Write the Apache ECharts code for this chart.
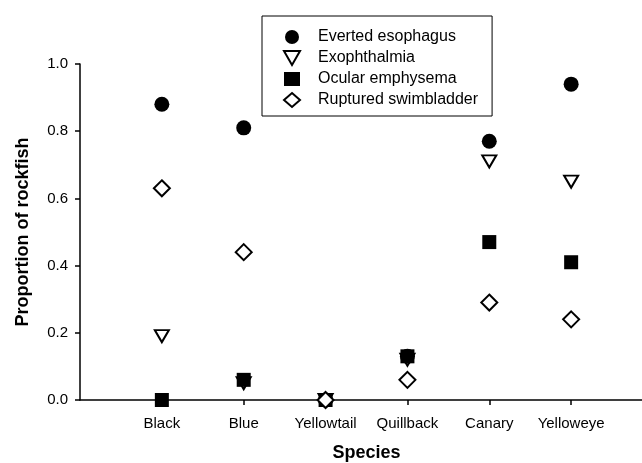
<!DOCTYPE html>
<html>
<head>
<meta charset="utf-8">
<style>
    html, body { margin: 0; padding: 0; background: #fff; }
    #chart { width: 642px; height: 463px; }
</style>
<script src="https://cdn.jsdelivr.net/npm/echarts@6/dist/echarts.min.js"></script>
</head>
<body>
<div id="chart"></div>
<script>
var species = ['Black', 'Blue', 'Yellowtail', 'Quillback', 'Canary', 'Yelloweye'];
var yTicks = [0, 0.2, 0.4, 0.6, 0.8, 1.0];

var evertedEsophagus = [0.88, 0.81, 0, 0.13, 0.77, 0.94];
var exophthalmia = [0.19, 0.05, 0, 0.12, 0.71, 0.65];
var ocularEmphysema = [0, 0.06, 0, 0.13, 0.47, 0.41];
var rupturedSwimbladder = [0.63, 0.44, 0, 0.06, 0.29, 0.24];

var font = '"Liberation Sans", Arial, Helvetica, sans-serif';
// open triangle pointing down
var downTriangle = 'path://M0,0 L20,0 L10,17.32 Z';

// species sit at x = 1..6 on a 0..7 axis
function pts(vals) {
    var out = [];
    for (var i = 0; i < vals.length; i++) {
        out.push([i + 1, vals[i]]);
    }
    return out;
}

function scatter(name, vals, symbol, size, fill) {
    return {
        type: 'scatter',
        name: name,
        symbol: symbol,
        symbolSize: size,
        data: pts(vals),
        itemStyle: {
            color: fill,
            borderColor: '#000',
            borderWidth: fill === '#fff' ? 2 : 0,
            opacity: 1
        },
        emphasis: { disabled: true }
    };
}

var myChart = echarts.init(document.getElementById('chart'));
var option = {
    animation: false,
    backgroundColor: '#fff',
    grid: {
        left: 80,
        top: 64,
        height: 336,
        width: 573,
        outerBoundsMode: 'none'
    },
    legend: {
        orient: 'vertical',
        left: 262,
        top: 16,
        itemWidth: 16,
        itemHeight: 14,
        itemGap: 5,
        padding: [13, 14, 8, 21],
        borderColor: '#000',
        borderWidth: 1,
        selectedMode: false,
        textStyle: {
            fontFamily: font,
            fontSize: 16,
            lineHeight: 16,
            color: '#000',
            padding: [0, 0, 0, 13]
        }
    },
    xAxis: {
        type: 'value',
        min: 0,
        max: 7,
        interval: 1,
        name: 'Species',
        nameLocation: 'middle',
        nameGap: 44,
        nameTextStyle: {
            fontFamily: font,
            fontSize: 18,
            fontWeight: 'bold',
            color: '#000'
        },
        splitLine: { show: false },
        axisLine: { lineStyle: { color: '#000', width: 1.5 } },
        axisTick: {
            length: 5,
            customValues: [1, 2, 3, 4, 5, 6],
            lineStyle: { color: '#000', width: 1.5 }
        },
        axisLabel: {
            customValues: [1, 2, 3, 4, 5, 6],
            margin: 16,
            fontFamily: font,
            fontSize: 15,
            color: '#000',
            formatter: function (v) {
                return species[v - 1] || '';
            }
        }
    },
    yAxis: {
        type: 'value',
        min: 0,
        max: 1,
        interval: 0.2,
        name: 'Proportion of rockfish',
        nameLocation: 'middle',
        nameGap: 48,
        nameTextStyle: {
            fontFamily: font,
            fontSize: 18,
            fontWeight: 'bold',
            color: '#000'
        },
        splitLine: { show: false },
        axisLine: { show: true, lineStyle: { color: '#000', width: 1.5 } },
        axisTick: {
            show: true,
            length: 5,
            lineStyle: { color: '#000', width: 1.5 }
        },
        axisLabel: {
            margin: 12,
            fontFamily: font,
            fontSize: 15,
            color: '#000',
            formatter: function (v) {
                return v.toFixed(1);
            }
        }
    },
    series: [
        scatter('Everted esophagus', evertedEsophagus, 'circle', 15, '#000'),
        scatter('Exophthalmia', exophthalmia, downTriangle, [14, 12], '#fff'),
        scatter('Ocular emphysema', ocularEmphysema, 'rect', 14, '#000'),
        scatter('Ruptured swimbladder', rupturedSwimbladder, 'diamond', [16, 16], '#fff')
    ]
};
myChart.setOption(option);
</script>
</body>
</html>
